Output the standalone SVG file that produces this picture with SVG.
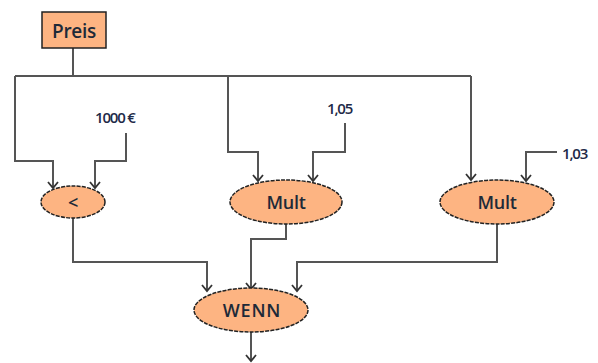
<svg xmlns="http://www.w3.org/2000/svg" width="598" height="363" viewBox="0 0 598 363">
<style>
.node{fill:#FDB482;stroke:#222;stroke-width:1.5}
.ell{stroke-dasharray:4 1.2}
.lbl{font-family:"Open Sans","Liberation Sans",sans-serif;font-size:18px;font-weight:600;fill:#1e2a38;text-anchor:middle;dominant-baseline:central;letter-spacing:-0.3px}
.num{font-family:"Open Sans","Liberation Sans",sans-serif;font-size:15px;font-weight:600;fill:#1e2a48;dominant-baseline:central;letter-spacing:-1.2px}
.c{fill:none;stroke:#555;stroke-width:2}
</style>
<defs>
<marker id="arr" markerWidth="12" markerHeight="12" refX="9" refY="6" orient="auto" markerUnits="userSpaceOnUse" viewBox="0 0 12 12">
<polyline points="3,1 9,6 3,11" fill="none" stroke="#333" stroke-width="1.8"/>
</marker>
</defs>
<g id="connectors">
<polyline class="c" points="73,48 73,76"/>
<polyline class="c" points="15,76 471,76"/>
<polyline class="c" points="15,76 15,161 53,161 53,188" marker-end="url(#arr)"/>
<polyline class="c" points="126,133 126,161 95,161 95,188" marker-end="url(#arr)"/>
<polyline class="c" points="228,76 228,152 258,152 258,181" stroke="#333" marker-end="url(#arr)"/>
<polyline class="c" points="345,123 345,152 313,152 313,181" marker-end="url(#arr)"/>
<polyline class="c" points="471,76 471,180" marker-end="url(#arr)"/>
<polyline class="c" points="557,152 526,152 526,181" stroke="#333" marker-end="url(#arr)"/>
<polyline class="c" points="73,218 73,262 207,262 207,291" stroke="#333" marker-end="url(#arr)"/>
<polyline class="c" points="286,224 286,239 251,239 251,289" marker-end="url(#arr)"/>
<polyline class="c" points="497,224 497,262 297,262 297,291" stroke="#333" marker-end="url(#arr)"/>
<polyline class="c" points="251,332 251,361" marker-end="url(#arr)"/>
</g>
<g id="preis">
<rect class="node" x="42" y="12" width="64" height="36" stroke-width="2"/>
<text class="lbl" x="74" y="31" style="font-size:19px">Preis</text>
</g>
<g id="c1000">
<text class="num" x="95" y="117">1000 €</text>
</g>
<g id="c105">
<text class="num" x="327" y="108">1,05</text>
</g>
<g id="c103">
<text class="num" x="562" y="153">1,03</text>
</g>
<g id="lt">
<ellipse class="node ell" cx="73" cy="202" rx="32" ry="16"/>
<text class="lbl" x="73" y="202">&lt;</text>
</g>
<g id="mult1">
<ellipse class="node ell" cx="286" cy="202" rx="56" ry="22"/>
<text class="lbl" x="286" y="202">Mult</text>
</g>
<g id="mult2">
<ellipse class="node ell" cx="497" cy="202" rx="57" ry="22"/>
<text class="lbl" x="497" y="202">Mult</text>
</g>
<g id="wenn">
<ellipse class="node ell" cx="251" cy="310" rx="57" ry="22"/>
<text class="lbl" x="252" y="310" style="letter-spacing:0.8px">WENN</text>
</g>
</svg>
